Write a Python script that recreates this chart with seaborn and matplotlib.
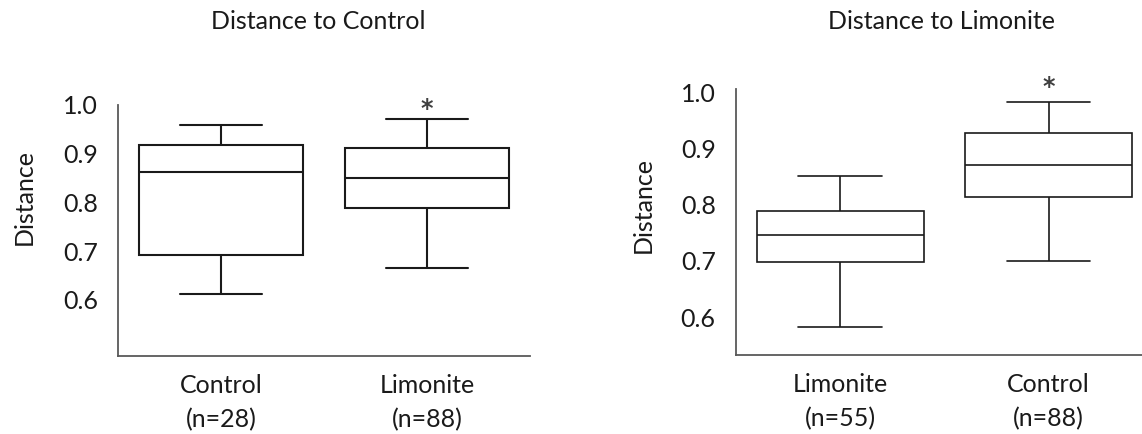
import numpy as np
import pandas as pd
import matplotlib
matplotlib.use("Agg")
import matplotlib.pyplot as plt
import seaborn as sns

# ---- data: five-number summaries [lower whisker, Q1, median, Q3, upper whisker]
left_groups = ["Control", "Limonite"]
left_labels = ["Control\n(n=28)", "Limonite\n(n=88)"]
left_control = [0.612, 0.693, 0.863, 0.917, 0.958]
left_limonite = [0.666, 0.788, 0.850, 0.911, 0.971]

right_groups = ["Limonite", "Control"]
right_labels = ["Limonite\n(n=55)", "Control\n(n=88)"]
right_limonite = [0.583, 0.698, 0.747, 0.789, 0.852]
right_control = [0.699, 0.814, 0.871, 0.927, 0.983]

titles = ["Distance to Control", "Distance to Limonite"]
y_label = "Distance"
y_ticks = [0.6, 0.7, 0.8, 0.9, 1.0]
star_groups = ["Limonite", "Control"]   # group marked with * in each panel

# ---- style
sns.set_theme(style="white")
plt.rcParams["font.family"] = ["Lato", "DejaVu Sans"]
FS = 18
TXT = "#1a1a1a"
SPINE = "#595959"

W, H = 1142, 434
fig = plt.figure(figsize=(W / 100, H / 100), dpi=100)
ax1 = fig.add_axes([118 / W, 1 - 356 / H, 412 / W, 251 / H])
ax2 = fig.add_axes([735.7 / W, 1 - 355.3 / H, 406.3 / W, 266 / H])


def panel(ax, groups, summaries, labels, title, star, xlim, ylim, lw,
          title_xy, ylab_xy, star_off):
    df = pd.DataFrame({
        "group": np.repeat(groups, len(summaries[0])),
        "value": np.concatenate(summaries),
    })
    sns.boxplot(data=df, x="group", y="value", order=groups, whis=(0, 100),
                width=0.8, color="white", saturation=1, linecolor="#1a1a1a",
                linewidth=lw, showfliers=False, ax=ax)
    ax.set_xlim(*xlim)
    ax.set_ylim(*ylim)
    ax.set_yticks(y_ticks)
    ax.set_yticklabels([f"{t:.1f}" for t in y_ticks])
    ax.set_xticks(range(len(groups)))
    ax.set_xticklabels(labels, linespacing=1.57)
    ax.tick_params(axis="both", length=0, labelsize=FS, colors=TXT)
    ax.tick_params(axis="y", pad=14.4)
    ax.tick_params(axis="x", pad=13)
    ax.set_xlabel("")
    ax.set_ylabel(y_label, fontsize=FS, color=TXT)
    ax.yaxis.set_label_coords(*ylab_xy)
    ax.set_title(title, fontsize=FS, color=TXT, x=title_xy[0], y=title_xy[1],
                 va="center", pad=0)
    sns.despine(ax=ax)
    for s in ("left", "bottom"):
        ax.spines[s].set_color(SPINE)
        ax.spines[s].set_linewidth(1.3)
    si = groups.index(star)
    top = summaries[si][-1]
    ax.annotate("*", xy=(si, top), xytext=(0, star_off), textcoords="offset points",
                ha="center", va="baseline", fontsize=17, fontweight="bold",
                color="#404040", family="DejaVu Sans")


panel(ax1, left_groups, [left_control, left_limonite], left_labels, titles[0],
      star_groups[0], (-0.5, 1.5), (0.485, 0.999), 1.5,
      (0.486, 1.332), (-0.199, 0.632), 2.5)
panel(ax2, right_groups, [right_limonite, right_control], right_labels, titles[1],
      star_groups[1], (-0.5, 1.447), (0.532, 1.0055), 1.2,
      (0.507, 1.254), (-0.199, 0.565), 5.5)

fig.savefig("out.png", dpi=100, facecolor="white")
